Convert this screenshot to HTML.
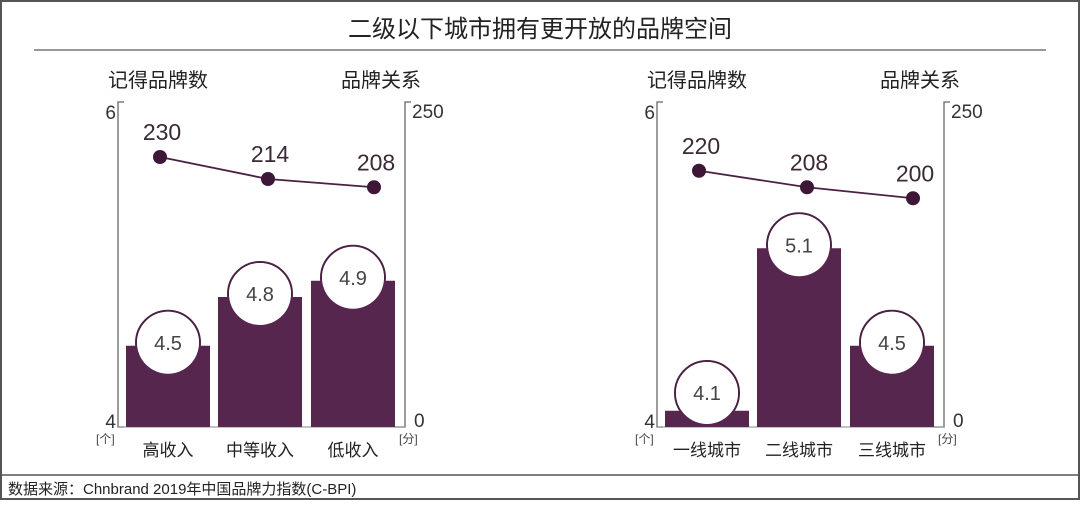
<!DOCTYPE html>
<html><head><meta charset="utf-8"><style>
body{margin:0;background:#fff;}
svg text{font-family:"Liberation Sans","Noto Sans CJK SC",sans-serif;}
</style></head><body>
<svg width="1080" height="500" viewBox="0 0 1080 500">
<rect x="1" y="1" width="1078" height="498" fill="#fff" stroke="#555" stroke-width="2"/>
<text x="540" y="37" font-size="24" text-anchor="middle" fill="#222">二级以下城市拥有更开放的品牌空间</text>
<line x1="34" y1="50" x2="1046" y2="50" stroke="#777" stroke-width="1.5"/>
<line x1="0" y1="475" x2="1080" y2="475" stroke="#555" stroke-width="1.5"/>
<text x="8" y="494" font-size="15" fill="#222">数据来源：Chnbrand 2019年中国品牌力指数(C-BPI)</text>
<g id="charts"></g>
</svg>
<script>
const leftCategories=["高收入","中等收入","低收入"];
const leftBrandCounts=[4.5,4.8,4.9];
const leftRelations=[230,214,208];
const rightCategories=["一线城市","二线城市","三线城市"];
const rightBrandCounts=[4.1,5.1,4.5];
const rightRelations=[220,208,200];
const leftTicks=["6","4"];
const rightTicks=["250","0"];
const NS="http://www.w3.org/2000/svg";
const root=document.getElementById('charts');
function mk(tag,attrs,parent){const e=document.createElementNS(NS,tag);for(const k in attrs)e.setAttribute(k,attrs[k]);(parent||root).appendChild(e);return e;}
function yBar(v){return 427-(v-4)*162.5;}
function yLine(v){return 157+(230-v)*1.375;}
function draw(ox,cats,bars,rels,name){
  const g=mk('g',{});
  
  
  const axL=ox+118, axR=ox+405;
  const barX=[ox+126,ox+218,ox+311];
  const bw=84;
  let t;
  t=mk('text',{x:ox+108,y:87,'font-size':20,fill:'#222'},g);t.textContent="记得品牌数";
  
  t=mk('text',{x:ox+421,y:87,'font-size':20,fill:'#222','text-anchor':'end'},g);t.textContent="品牌关系";
  
  let l=mk('path',{d:`M${axL+6} 102 H${axL} V427 H${axL+6}`,stroke:'#666',fill:'none','stroke-width':1.3},g);
  
  l=mk('path',{d:`M${axR+6} 102 H${axR} V427 H${axR-10}`,stroke:'#666',fill:'none','stroke-width':1.3},g);
  
  mk('line',{x1:axL,y1:427,x2:axR,y2:427,stroke:'#888','stroke-width':1},g);
  t=mk('text',{x:axL-2,y:119,'font-size':19,fill:'#333','text-anchor':'end'},g);t.textContent=leftTicks[0];
  
  t=mk('text',{x:axL-2,y:428,'font-size':19,fill:'#333','text-anchor':'end'},g);t.textContent=leftTicks[1];
  
  t=mk('text',{x:axR+7,y:118,'font-size':19,fill:'#333'},g);t.textContent=rightTicks[0];
  
  t=mk('text',{x:axR+9,y:427,'font-size':19,fill:'#333'},g);t.textContent=rightTicks[1];
  
  t=mk('text',{x:axL-22,y:443,'font-size':12,fill:'#444'},g);t.textContent="[个]";
  
  t=mk('text',{x:axR-6,y:443,'font-size':12,fill:'#444'},g);t.textContent="[分]";
  
  bars.forEach((v,i)=>{
    const y=yBar(v), cx=barX[i]+bw/2;
    const cy=Math.min(y-3,393);
    const c=mk('circle',{cx:cx,cy:cy,r:32,fill:'#fff',stroke:'#4a2143','stroke-width':2},g);
    
    const r=mk('rect',{x:barX[i],y:y,width:bw,height:427-y,fill:'#56264f'},g);
    
    const c2=mk('circle',{cx:cx,cy:cy,r:31,fill:'#fff'},g);
    
    const tx=mk('text',{x:cx,y:cy+7,'font-size':20,fill:'#444','text-anchor':'middle'},g);tx.textContent=v.toFixed(1);
    
    const lb=mk('text',{x:cx,y:456,'font-size':17,fill:'#222','text-anchor':'middle'},g);lb.textContent=cats[i];
    
  });
  const dotX=[ox+160,ox+268,ox+374];
  const pl=mk('polyline',{points:rels.map((v,i)=>dotX[i]+','+yLine(v)).join(' '),fill:'none',stroke:'#4a2143','stroke-width':1.8},g);
  
  rels.forEach((v,i)=>{
    const d=mk('circle',{cx:dotX[i],cy:yLine(v),r:7,fill:'#3e1737'},g);
    
    const tx=mk('text',{x:dotX[i]+2,y:yLine(v)-17,'font-size':23,fill:'#3a2a35','text-anchor':'middle'},g);tx.textContent=v;
    
  });
}
draw(0,leftCategories,leftBrandCounts,leftRelations,'income-chart');
draw(539,rightCategories,rightBrandCounts,rightRelations,'city-tier-chart');
</script>
</body></html>
